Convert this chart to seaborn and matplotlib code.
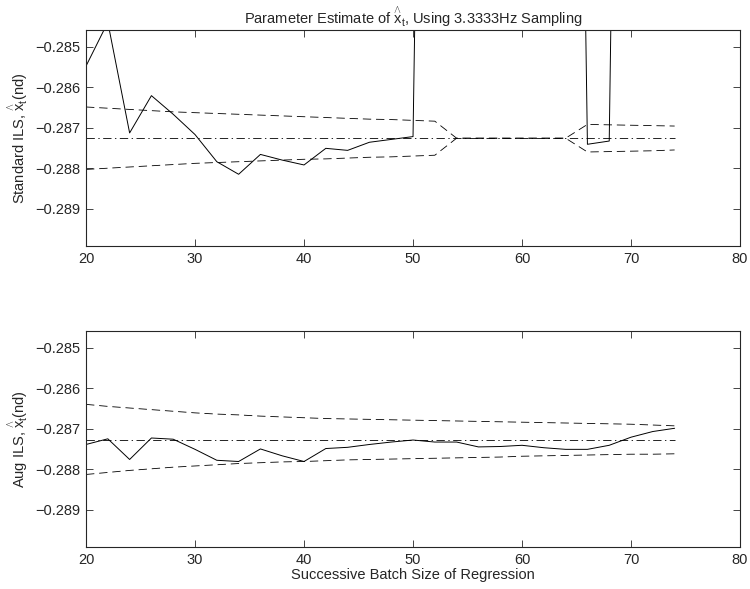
import numpy as np
import pandas as pd
import matplotlib
matplotlib.use("Agg")
import matplotlib.pyplot as plt
import seaborn as sns

batch = list(range(20, 76, 2))

std_est = [-0.28548, -0.28440, -0.28713, -0.28621, -0.28667, -0.28717, -0.28784, -0.28815,
           -0.28766, -0.28780, -0.28792, -0.28751, -0.28756, -0.28736, -0.28729, -0.28722,
           -0.2520, -0.2480, -0.2560, -0.2500, -0.2530, -0.2470, -0.2510,
           -0.28741, -0.28733, -0.2490, -0.2540, -0.2500]
std_center = [-0.28726] * 28
std_upper = [-0.28649, -0.28652, -0.28655, -0.28658, -0.28661, -0.28663, -0.28665, -0.28667,
             -0.28669, -0.28671, -0.28673, -0.28675, -0.28677, -0.28679, -0.28680, -0.28682,
             -0.28684, -0.28726, -0.28726, -0.28726, -0.28726, -0.28726, -0.28726,
             -0.28692, -0.28693, -0.28694, -0.28695, -0.28696]
std_lower = [-0.28803, -0.28800, -0.28797, -0.28794, -0.28791, -0.28788, -0.28786, -0.28784,
             -0.28782, -0.28780, -0.28778, -0.28777, -0.28775, -0.28773, -0.28772, -0.28770,
             -0.28768, -0.28726, -0.28726, -0.28726, -0.28726, -0.28726, -0.28726,
             -0.28760, -0.28759, -0.28758, -0.28757, -0.28755]

aug_est = [-0.28739, -0.28725, -0.28776, -0.28723, -0.28726, -0.28751, -0.28778, -0.28781,
           -0.28750, -0.28767, -0.28781, -0.28749, -0.28746, -0.28739, -0.28733, -0.28728,
           -0.28733, -0.28733, -0.28745, -0.28744, -0.28741, -0.28747, -0.28751, -0.28751,
           -0.28741, -0.28721, -0.28707, -0.28699]
aug_center = [-0.28727] * 28
aug_upper = [-0.28640, -0.28645, -0.28649, -0.28653, -0.28657, -0.28661, -0.28664, -0.28666,
             -0.28669, -0.28671, -0.28673, -0.28675, -0.28676, -0.28677, -0.28678, -0.28679,
             -0.28680, -0.28681, -0.28682, -0.28683, -0.28684, -0.28685, -0.28686, -0.28687,
             -0.28688, -0.28689, -0.28691, -0.28693]
aug_lower = [-0.28813, -0.28808, -0.28803, -0.28799, -0.28795, -0.28792, -0.28789, -0.28786,
             -0.28784, -0.28782, -0.28781, -0.28779, -0.28777, -0.28776, -0.28775, -0.28774,
             -0.28773, -0.28772, -0.28771, -0.28770, -0.28768, -0.28767, -0.28766, -0.28765,
             -0.28764, -0.28763, -0.28763, -0.28762]

x_ticks = [20, 30, 40, 50, 60, 70, 80]
y_ticks = [-0.289, -0.288, -0.287, -0.286, -0.285]

sns.set_style("ticks")
plt.rcParams['font.family'] = ['Liberation Sans', 'DejaVu Sans']
plt.rcParams['mathtext.fontset'] = 'custom'
plt.rcParams['mathtext.rm'] = 'Liberation Sans'
plt.rcParams['mathtext.it'] = 'Liberation Sans'
plt.rcParams['mathtext.bf'] = 'Liberation Sans'
plt.rcParams['lines.scale_dashes'] = False

FS = 10.5
fig = plt.figure(figsize=(7.5, 5.89), dpi=100)
ax1 = fig.add_axes([0.1147, 0.5823, 0.8720, 0.3668])
ax2 = fig.add_axes([0.1147, 0.0713, 0.8720, 0.3667])


def draw(ax, est, center, upper, lower):
    df = pd.DataFrame({"n": batch, "est": est, "c": center, "u": upper, "l": lower})
    sns.lineplot(data=df, x="n", y="u", ax=ax, color="k", lw=0.6)
    ax.lines[-1].set_dashes((6, 3.5))
    sns.lineplot(data=df, x="n", y="l", ax=ax, color="k", lw=0.6)
    ax.lines[-1].set_dashes((6, 3.5))
    sns.lineplot(data=df, x="n", y="c", ax=ax, color="k", lw=0.6)
    ax.lines[-1].set_dashes((6, 2.5, 1, 2.5))
    sns.lineplot(data=df, x="n", y="est", ax=ax, color="k", lw=0.7)
    ax.set_xlim(20, 80)
    ax.set_ylim(-0.28992, -0.28459)
    ax.set_xticks(x_ticks)
    ax.set_yticks(y_ticks)
    ax.set_yticklabels([f"{v:.3f}".replace("-", "\u2212") for v in y_ticks])
    ax.tick_params(direction="in", top=True, right=True, length=5, width=0.6,
                   labelsize=FS, pad=4)
    for s in ax.spines.values():
        s.set_linewidth(0.8)
        s.set_visible(True)
    ax.set_xlabel("")


draw(ax1, std_est, std_center, std_upper, std_lower)
draw(ax2, aug_est, aug_center, aug_upper, aug_lower)

XHAT = r"$\overset{\wedge}{\mathrm{x}}_{\mathrm{t}}$"
ax1.set_ylabel("Standard ILS, " + XHAT + "(nd)", fontsize=FS, labelpad=4)
ax2.set_ylabel("Aug ILS, " + XHAT + "(nd)", fontsize=FS, labelpad=4)
ax1.set_title("Parameter Estimate of " + XHAT + ", Using 3.3333Hz Sampling",
              fontsize=FS, pad=4)
ax2.set_xlabel("Successive Batch Size of Regression", fontsize=FS, labelpad=1)

fig.savefig("out.png", dpi=100)
